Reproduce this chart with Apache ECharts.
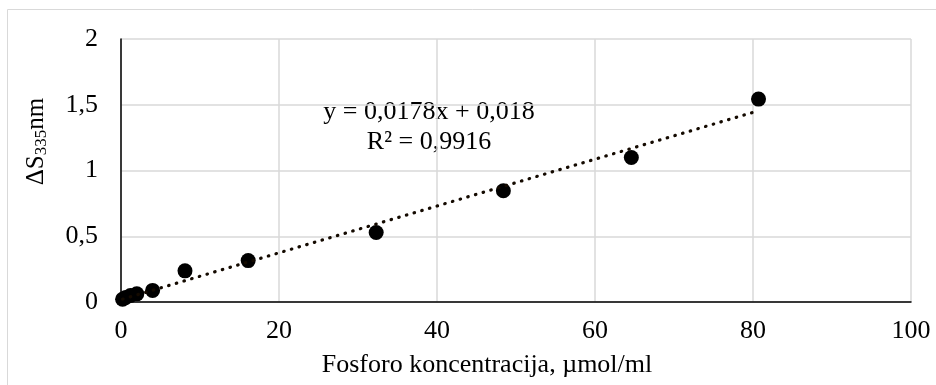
<!DOCTYPE html>
<html>
<head>
<meta charset="utf-8">
<title>Fosforo kalibracija</title>
<script src="https://cdn.jsdelivr.net/npm/echarts@6/dist/echarts.min.js"></script>
</head>
<body style="margin:0">
	<div id="main" style="width: 936px; height: 385px;"></div>

	<script type="text/javascript">
		// duomenys nuskaityti nuo grafiko
		var concentration = [0.2, 0.6, 1.2, 2.0, 4.0, 8.1, 16.1, 32.3, 48.4, 64.6, 80.7];
		var deltaS = [0.021, 0.035, 0.049, 0.062, 0.088, 0.237, 0.315, 0.528, 0.846, 1.099, 1.543];
		var xTicks = [0, 20, 40, 60, 80, 100];
		var yTicks = [0, 0.5, 1, 1.5, 2];
		// tiesines regresijos lygtis (is grafiko)
		var slope = 0.0178;
		var intercept = 0.018;
		var trendX = [concentration[0], concentration[concentration.length - 1]];

		var points = concentration.map(function (x, i) { return [x, deltaS[i]]; });
		var trend = trendX.map(function (x) { return [x, slope * x + intercept]; });

		var font = '"Liberation Serif", "Times New Roman", serif';
		var myChart = echarts.init(document.getElementById('main'));

		var option = {
		    animation: false,
		    textStyle: { fontFamily: font },
		    grid: { left: 121, right: 25, top: 39, bottom: 83 },
		    graphic: [
		        {
		            type: 'rect',
		            shape: { x: 7.5, y: 9.5, width: 1000, height: 400 },
		            style: { fill: null, stroke: '#d9d9d9', lineWidth: 1 }
		        },
		        {
		            type: 'text',
		            x: 429, y: 97,
		            style: {
		                text: 'y = 0,0178x + 0,018\nR² = 0,9916',
		                font: '26px ' + font, fill: '#000', lineHeight: 30,
		                align: 'center'
		            }
		        }
		    ],
		    xAxis: {
		        type: 'value',
		        min: xTicks[0], max: xTicks[xTicks.length - 1], interval: 20,
		        name: 'Fosforo koncentracija, µmol/ml',
		        nameLocation: 'middle', nameGap: 50,
		        nameTextStyle: { fontSize: 26, color: '#000', fontFamily: font, padding: [0, 58, 0, 0] },
		        axisLine: { lineStyle: { color: '#000', width: 1.5 } },
		        axisTick: { show: false },
		        axisLabel: { fontSize: 26, color: '#000', margin: 16, fontFamily: font },
		        splitLine: { show: true, lineStyle: { color: '#d9d9d9', width: 1.5 } }
		    },
		    yAxis: {
		        type: 'value',
		        min: yTicks[0], max: yTicks[yTicks.length - 1], interval: 0.5,
		        name: '{a|ΔS}{b|335}{a|nm}',
		        nameLocation: 'middle', nameGap: 71, nameRotate: 90,
		        nameTextStyle: {
		            color: '#000',
		            padding: [0, 0, 0, 58],
		            rich: {
		                a: { fontSize: 25, fontFamily: font, color: '#000' },
		                b: { fontSize: 17, fontFamily: font, color: '#000', verticalAlign: 'bottom', padding: [10, 0, 0, 0] }
		            }
		        },
		        axisLine: { show: true, lineStyle: { color: '#000', width: 1.5 } },
		        axisTick: { show: false },
		        axisLabel: {
		            fontSize: 26, color: '#000', margin: 23, fontFamily: font,
		            formatter: function (v) { return String(v).replace('.', ','); }
		        },
		        splitLine: { show: true, lineStyle: { color: '#d9d9d9', width: 1.5 } }
		    },
		    series: [
		        {
		            name: 'trend',
		            type: 'line',
		            data: trend,
		            symbol: 'none',
		            lineStyle: { color: '#140a00', width: 3.2, type: [0.5, 7.5], cap: 'round' },
		            z: 3
		        },
		        {
		            name: 'deltaS',
		            type: 'scatter',
		            data: points,
		            symbolSize: 15,
		            itemStyle: { color: '#000', opacity: 1 },
		            z: 2
		        }
		    ]
		};

		myChart.setOption(option);
	</script>
</body>
</html>
